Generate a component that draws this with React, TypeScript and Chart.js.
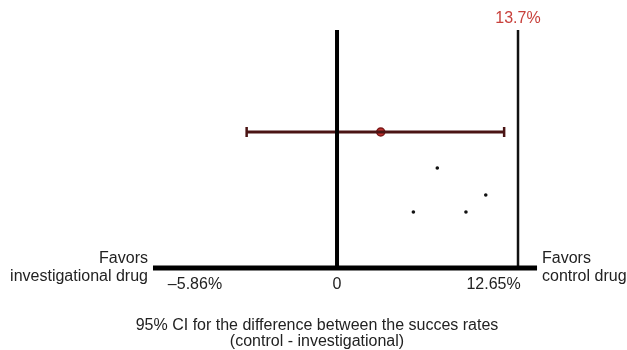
import React, { useEffect, useRef } from "react";
import { Chart, registerables } from "chart.js";

Chart.register(...registerables);

// ---- data ----
const axisStart = -13.93;
const axisEnd = 15.14;
const zeroLineX = 0;
const refLineX = 13.7;
const refLineLabel = "13.7%";
const lineTop = 238;
const ciLower = -6.84;
const ciUpper = 12.65;
const ciPoint = 3.31;
const ciRow = 136;
const dotsX = [7.59, 11.26, 5.78, 9.76];
const dotsY = [100, 73, 56, 56];
const tickLabels = ["\u20135.86%", "0", "12.65%"];
const tickAnchors = [-10.75, 0, 11.85];
const leftNote = ["Favors", "investigational drug"];
const rightNote = ["Favors", "control drug"];
const titleLines = [
  "95% CI for the difference between the succes rates",
  "(control - investigational)",
];

const FONT = '16px "Liberation Sans", Arial, sans-serif';

export default function App() {
  const ref = useRef<HTMLCanvasElement | null>(null);
  useEffect(() => {
    document.body.style.margin = "0";
    const canvas = ref.current!;
    const textPlugin = {
      id: "texts",
      afterDraw(chart: any) {
        const ctx = chart.ctx;
        const xs = chart.scales.x;
        ctx.save();
        ctx.font = FONT;
        ctx.textBaseline = "middle";
        // ref label
        ctx.fillStyle = "#c8403b";
        ctx.textAlign = "center";
        ctx.fillText(refLineLabel, xs.getPixelForValue(refLineX), 19);
        // tick labels
        ctx.fillStyle = "#222";
        tickLabels.forEach((t, i) => {
          ctx.fillText(t, xs.getPixelForValue(tickAnchors[i]), 285);
        });
        // side notes
        const ax0 = xs.getPixelForValue(axisStart);
        const ax1 = xs.getPixelForValue(axisEnd);
        ctx.textAlign = "right";
        leftNote.forEach((t, i) => ctx.fillText(t, ax0 - 5, 259 + i * 18));
        ctx.textAlign = "left";
        rightNote.forEach((t, i) => ctx.fillText(t, ax1 + 5, 259 + i * 18));
        // title
        ctx.textAlign = "center";
        titleLines.forEach((t, i) => ctx.fillText(t, 317, 326 + i * 16));
        ctx.restore();
      },
    };
    const chart = new Chart(canvas, {
      type: "scatter",
      data: {
        datasets: [
          {
            data: [
              { x: axisStart, y: 0 },
              { x: axisEnd, y: 0 },
            ],
            showLine: true,
            borderColor: "#000",
            borderWidth: 5,
            pointRadius: 0,
            borderCapStyle: "butt",
          } as any,
          {
            data: [
              { x: zeroLineX, y: 0 },
              { x: zeroLineX, y: lineTop },
            ],
            showLine: true,
            borderColor: "#000",
            borderWidth: 4,
            pointRadius: 0,
          },
          {
            data: [
              { x: refLineX, y: 0 },
              { x: refLineX, y: lineTop },
            ],
            showLine: true,
            borderColor: "#111",
            borderWidth: 2.5,
            pointRadius: 0,
          },
          {
            data: [
              { x: ciLower, y: ciRow },
              { x: ciUpper, y: ciRow },
            ],
            showLine: true,
            borderColor: "#4a1414",
            borderWidth: 3,
            pointStyle: "line",
            rotation: 90,
            pointRadius: 5,
            pointBorderWidth: 2.5,
            pointBorderColor: "#4a1414",
          } as any,
          {
            data: [{ x: ciPoint, y: ciRow }],
            pointRadius: 4,
            pointBackgroundColor: "#c0302c",
            pointBorderColor: "#7a1818",
            pointBorderWidth: 1.5,
          },
          {
            data: dotsX.map((x, i) => ({ x, y: dotsY[i] })),
            pointRadius: 1.8,
            pointBackgroundColor: "#111",
            pointBorderColor: "#111",
            pointBorderWidth: 0,
          },
        ],
      },
      options: {
        animation: false,
        responsive: false,
        devicePixelRatio: 1,
        layout: { padding: 0, autoPadding: false },
        plugins: { legend: { display: false }, tooltip: { enabled: false }, title: { display: false } },
        scales: {
          x: { type: "linear", display: false, min: -25.51, max: 21.95 },
          y: { type: "linear", display: false, min: -82, max: 268 },
        },
      },
      plugins: [textPlugin],
    });
    return () => chart.destroy();
  }, []);
  return (
    <div style={{ width: 627, height: 350 }}>
      <canvas ref={ref} width={627} height={350} />
    </div>
  );
}
